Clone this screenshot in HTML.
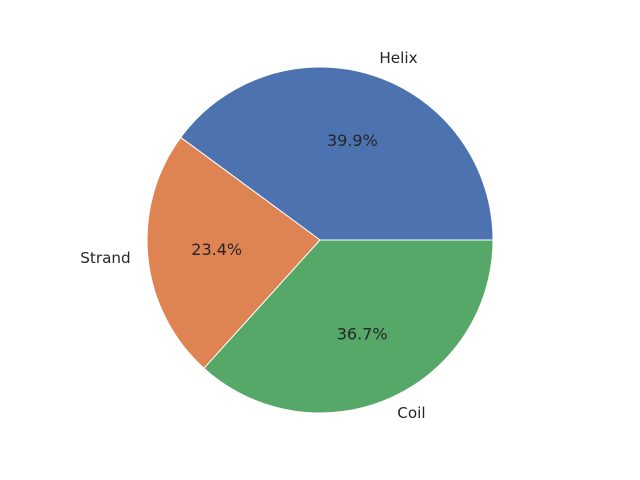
<!DOCTYPE html>
<html>
<head>
<meta charset="utf-8">
<style>
html,body{margin:0;padding:0;background:#fff;}
svg{display:block;}
text{font-family:"DejaVu Sans","Liberation Sans",sans-serif;fill:#262626;}
</style>
</head>
<body>
<svg id="chart" width="640" height="480" viewBox="0 0 640 480">
<rect width="640" height="480" fill="#fff"/>
<g id="slices"></g>
<g id="labels"></g>
</svg>
<script>
const categories = ["Helix", "Strand", "Coil"];
const values = [39.9, 23.4, 36.7];
const colors = ["#4c72b0", "#dd8452", "#55a868"];

const cx = 320, cy = 240, R = 173;
const NS = "http://www.w3.org/2000/svg";
const gS = document.getElementById("slices");
const gL = document.getElementById("labels");
const total = values.reduce((a, b) => a + b, 0);
function pt(r, deg) {
  const a = deg * Math.PI / 180;
  return [cx + r * Math.cos(a), cy - r * Math.sin(a)];
}
let start = 0;
values.forEach((v, i) => {
  const sweep = v / total * 360;
  const end = start + sweep;
  const p1 = pt(R, start), p2 = pt(R, end);
  const large = sweep > 180 ? 1 : 0;
  const path = document.createElementNS(NS, "path");
  path.setAttribute("d", `M${cx},${cy} L${p1[0]},${p1[1]} A${R},${R} 0 ${large} 0 ${p2[0]},${p2[1]} Z`);
  path.setAttribute("fill", colors[i]);
  path.setAttribute("stroke", "#fff");
  path.setAttribute("stroke-width", "1");
  
  
  gS.appendChild(path);

  const mid = start + sweep / 2;
  const lp = pt(R * 1.1, mid);
  const lab = document.createElementNS(NS, "text");
  lab.setAttribute("x", lp[0]);
  lab.setAttribute("y", lp[1] - 1);
  lab.setAttribute("font-size", "15.2");
  lab.setAttribute("dominant-baseline", "central");
  lab.setAttribute("text-anchor", lp[0] >= cx ? "start" : "end");
  lab.textContent = categories[i];
  
  
  gL.appendChild(lab);

  const pp = pt(R * 0.6, mid);
  const pct = document.createElementNS(NS, "text");
  pct.setAttribute("x", pp[0]);
  pct.setAttribute("y", pp[1] - 1);
  pct.setAttribute("font-size", "16");
  pct.setAttribute("dominant-baseline", "central");
  pct.setAttribute("text-anchor", "middle");
  pct.textContent = (v / total * 100).toFixed(1) + "%";
  
  
  gL.appendChild(pct);

  start = end;
});
</script>
</body>
</html>
